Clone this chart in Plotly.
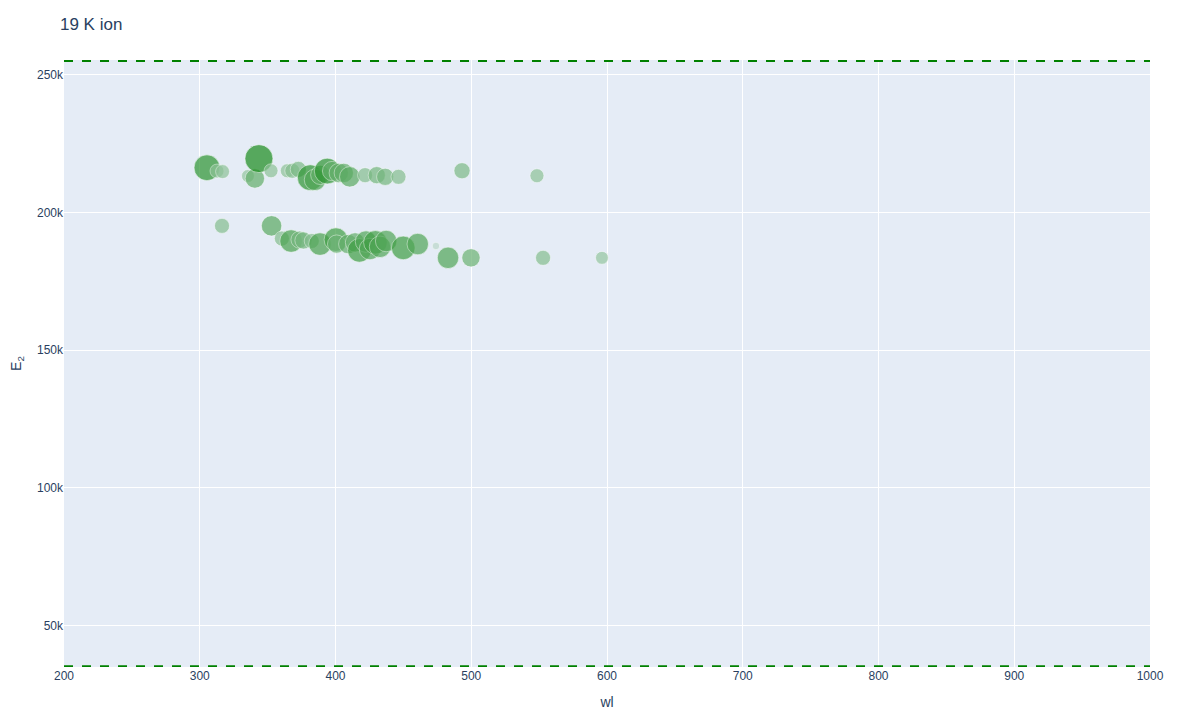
import numpy as np
import plotly.graph_objects as go

# line list: wavelength (nm), upper level energy (in 1000 cm-1), relative intensity
wl = [305.3, 312.7, 316.8, 335.5, 340.6, 343.6, 352.5, 364.5, 368.2, 372.6,
      381.4, 384.9, 388.8, 393.9, 397.5, 402.4, 406.1, 410.5, 421.8, 430.4,
      436.6, 446.4, 493.2, 548.4,
      316.4, 352.9, 360.5, 367.3, 373.5, 376.4, 382.5, 388.6, 400.3, 400.8,
      409.4, 414.4, 417.6, 422.5, 425.4, 429.4, 432.8, 437.3, 449.9, 460.6,
      474.0, 482.9, 499.8, 552.9, 596.3]
e2 = [216.2, 215.0, 214.8, 213.2, 212.3, 219.5, 215.1, 215.1, 215.1, 215.6,
      212.6, 211.8, 213.6, 215.0, 215.0, 214.3, 214.3, 212.9, 213.5, 213.5,
      212.9, 212.9, 215.1, 213.3,
      195.1, 195.1, 190.5, 189.6, 190.1, 189.8, 189.6, 188.5, 190.1, 188.5,
      188.5, 189.1, 186.2, 189.4, 186.7, 189.1, 187.5, 189.6, 187.1, 188.5,
      187.8, 183.5, 183.5, 183.5, 183.5]
intensity = [24, 13, 13, 12, 18, 26, 13, 13, 14, 15,
             24, 20, 18, 24, 18, 18, 18, 19, 14, 16,
             16, 14, 15, 13,
             14, 19, 14, 21, 16, 16, 14, 21, 22, 17,
             18, 18, 22, 20, 20, 22, 20, 20, 22, 20,
             7, 20, 17, 14, 12]

# energy limits shown as dashed lines
e_limits = [254.9, 35.3]

e2_cm = np.array(e2) * 1000
inten = np.array(intensity)

# shade of green by intensity, blended towards the plot background
alpha = 0.88 * (inten / inten.max()) ** 1.2
base = np.array([0, 128, 0])
bg = np.array([229, 236, 246])
colors = ['rgb(%d,%d,%d)' % tuple(a * base + (1 - a) * bg) for a in alpha]

fig = go.Figure()
fig.add_trace(go.Scatter(
    x=wl,
    y=e2_cm,
    mode='markers',
    marker=dict(
        size=inten,
        sizemode='diameter',
        sizeref=0.93,
        color=colors,
        line=dict(color='rgba(255,255,255,0.6)', width=1)
    ),
    showlegend=False
))

for lim in e_limits:
    fig.add_hline(y=lim * 1000, line=dict(color='green', width=2, dash='dash'))

fig.update_layout(
    title=dict(text='19 K ion', x=0.0433, y=0.978, yanchor='middle'),
    font=dict(family='Arial'),
    width=1200,
    height=720,
    margin=dict(l=56, r=58, t=52, b=61),
    xaxis=dict(title='wl', range=[200, 1000], dtick=100),
    yaxis=dict(title='E<sub>2</sub>', range=[35000, 255300], automargin=False),
    template='plotly'
)

fig.write_html("out.html")
